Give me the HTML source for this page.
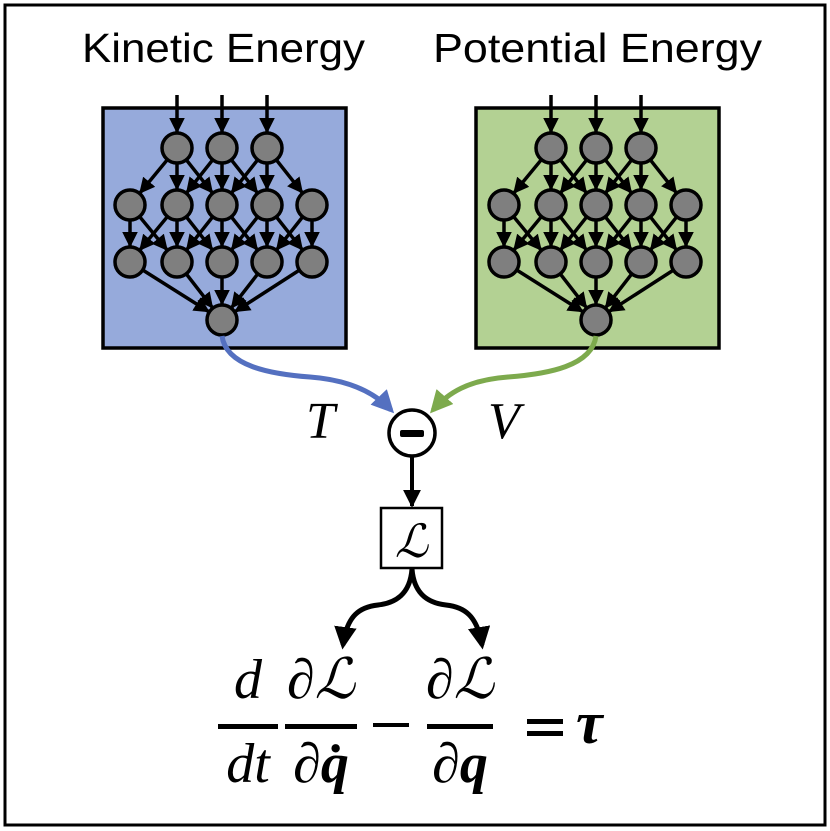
<!DOCTYPE html>
<html><head><meta charset="utf-8"><style>html,body{margin:0;padding:0;background:#fff}svg{display:block}</style></head>
<body>
<svg id="s" width="830" height="831" viewBox="0 0 830 831" xmlns="http://www.w3.org/2000/svg">
<defs>
<marker id="ah" viewBox="0 0 10 10" refX="9" refY="5" markerWidth="4.5" markerHeight="4.5" markerUnits="strokeWidth" orient="auto"><path d="M0,0L10,5L0,10z" fill="#000"/></marker>
<marker id="ahb" viewBox="0 0 10 10" refX="8" refY="5" markerWidth="4.5" markerHeight="4.5" markerUnits="strokeWidth" orient="auto"><path d="M0,0L10,5L0,10z" fill="#5470c0"/></marker>
<marker id="ahg" viewBox="0 0 10 10" refX="8" refY="5" markerWidth="4.5" markerHeight="4.5" markerUnits="strokeWidth" orient="auto"><path d="M0,0L10,5L0,10z" fill="#7daa4d"/></marker>
<marker id="ahk" viewBox="0 0 10 10" refX="8" refY="5" markerWidth="4.5" markerHeight="4.5" markerUnits="strokeWidth" orient="auto"><path d="M0,0L10,5L0,10z" fill="#000"/></marker>
</defs>
<rect x="5" y="5" width="820" height="820" fill="#fff" stroke="#000" stroke-width="3"/>
<text x="82" y="62" font-family="Liberation Sans, sans-serif" font-size="41" textLength="283" lengthAdjust="spacingAndGlyphs">Kinetic Energy</text>
<text x="433" y="62" font-family="Liberation Sans, sans-serif" font-size="41" textLength="329" lengthAdjust="spacingAndGlyphs">Potential Energy</text>
<rect x="103" y="108" width="243" height="240" fill="#96aadb" stroke="#000" stroke-width="3.5"/>
<rect x="476" y="108" width="243" height="240" fill="#b3d193" stroke="#000" stroke-width="3.5"/>
<g id="nets"></g>
<path d="M222,336 C226,366 270,374 310,377 C350,380 375,393 391,410" fill="none" stroke="#5470c0" stroke-width="5" marker-end="url(#ahb)"/>
<path d="M596,336 C592,366 548,374 508,377 C468,380 448,393 433,410" fill="none" stroke="#7daa4d" stroke-width="5" marker-end="url(#ahg)"/>
<text x="306" y="438" font-family="Liberation Serif, serif" font-style="italic" font-size="52">T</text>
<text x="488" y="438" font-family="Liberation Serif, serif" font-style="italic" font-size="52">V</text>
<circle cx="412" cy="433" r="23" fill="#fff" stroke="#000" stroke-width="3.5"/>
<rect x="400" y="430" width="24" height="7" rx="2" fill="#000"/>
<line x1="412" y1="456" x2="412" y2="506" stroke="#000" stroke-width="4" marker-end="url(#ah)"/>
<rect x="381" y="508" width="61" height="60" fill="#fff" stroke="#000" stroke-width="2.5"/>
<text x="411.5" y="557" text-anchor="middle" font-family="DejaVu Serif, serif" font-style="italic" font-size="46">ℒ</text>
<path d="M412,569 C410,595 395,603 378,605 C360,607 347,615 343,645" fill="none" stroke="#000" stroke-width="5" marker-end="url(#ahk)"/>
<path d="M412,569 C414,595 429,603 446,605 C464,607 477,615 482,645" fill="none" stroke="#000" stroke-width="5" marker-end="url(#ahk)"/>
<g font-family="Liberation Serif, DejaVu Serif, serif" font-style="italic" font-size="56">
<text x="248" y="698" text-anchor="middle">d</text>
<rect x="218" y="724" width="60" height="5" fill="#000"/>
<text x="248" y="782" text-anchor="middle">dt</text>
<text x="321" y="698" text-anchor="middle">∂ℒ</text>
<rect x="285" y="724" width="72" height="5" fill="#000"/>
<text x="321" y="782" text-anchor="middle">∂<tspan font-weight="bold">q̇</tspan></text>
<rect x="373" y="723" width="36" height="4" fill="#000"/>
<text x="460" y="698" text-anchor="middle">∂ℒ</text>
<rect x="427" y="724" width="66" height="5" fill="#000"/>
<text x="460" y="782" text-anchor="middle">∂<tspan font-weight="bold">q</tspan></text>
<rect x="527" y="719" width="36" height="5" fill="#000"/>
<rect x="527" y="731" width="36" height="5" fill="#000"/>
<text x="576" y="743" font-weight="bold" font-size="60">τ</text>
</g>
</svg>
<script>
const NS='http://www.w3.org/2000/svg';
const g=document.getElementById('nets');
const offsets=[0,374];
const rows=[[177,222,267],[130,177,222,267,312],[130,177,222,267,312],[222]];
const ys=[148,205,262,320];
const R=15;
function line(x1,y1,x2,y2){
  const dx=x2-x1,dy=y2-y1,d=Math.hypot(dx,dy);
  const l=document.createElementNS(NS,'line');
  l.setAttribute('x1',x1+dx/d*R*(y1<100?0:1));l.setAttribute('y1',y1+dy/d*R*(y1<100?0:1));
  l.setAttribute('x2',x2-dx/d*(R+1));l.setAttribute('y2',y2-dy/d*(R+1));
  l.setAttribute('stroke','#000');l.setAttribute('stroke-width','3.5');l.setAttribute('marker-end','url(#ah)');
  
  
  g.appendChild(l);
}
offsets.forEach(o=>{
  rows[0].forEach(x=>line(x+o,95,x+o,ys[0]));
  rows[0].forEach((x,i)=>{[i,i+1,i+2].forEach(j=>line(x+o,ys[0],rows[1][j]+o,ys[1]));});
  rows[1].forEach((x,i)=>{[i-1,i,i+1].forEach(j=>{if(j>=0&&j<5)line(x+o,ys[1],rows[2][j]+o,ys[2]);});});
  rows[2].forEach(x=>line(x+o,ys[2],rows[3][0]+o,ys[3]));
  rows.forEach((r,ri)=>r.forEach(x=>{
    const c=document.createElementNS(NS,'circle');
    c.setAttribute('cx',x+o);c.setAttribute('cy',ys[ri]);c.setAttribute('r',R);
    c.setAttribute('fill','#7f7f7f');c.setAttribute('stroke','#000');c.setAttribute('stroke-width','3.5');
    
    
    g.appendChild(c);
  }));
});
</script>
</body></html>
